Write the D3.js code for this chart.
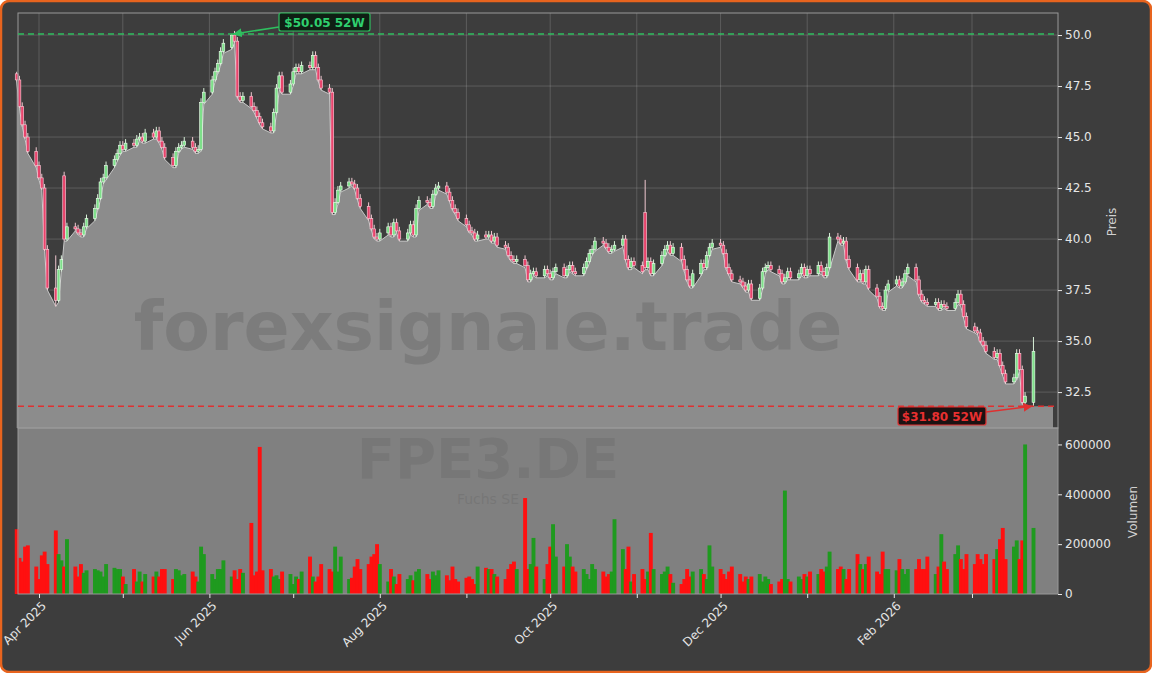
<!DOCTYPE html>
<html><head><meta charset="utf-8">
<script src="https://cdn.jsdelivr.net/npm/d3@7"></script>
<style>body{margin:0;background:#fff}svg{display:block}</style>
</head><body>
<svg id="c" width="1152" height="673"></svg>
<script>
const startDate = "2025-03-24";
const closes = [
47.8,46.5,45.6,45.0,44.3, 43.6,43.0,42.5,39.5,37.6, 37.0,38.5,39.0,40.0,40.6, 40.5,40.3,40.2,40.6,41.0,
41.5,42.0,42.8,43.0,43.6, 43.9,44.2,44.6,44.4,44.7, 44.6,44.9,45.0,44.8,45.2, 45.0,45.3,44.8,44.5,44.0,
43.6,44.3,44.5,44.6,44.8, 44.5,44.3,44.4,46.7,47.2, 47.8,48.2,48.6,49.2,49.6, 50.0,49.7,47.0,46.8,47.0,
46.5,46.3,46.0,45.7,45.5, 45.3,46.2,47.4,48.0,47.2, 47.6,48.2,48.4,48.2,48.5, 48.4,49.0,48.4,47.8,47.4,
47.2,41.3,41.8,42.4,42.6, 42.8,42.7,42.5,42.0,41.6, 41.0,40.5,40.1,40.0,40.3, 40.6,40.2,40.8,40.4,40.0,
40.3,40.7,40.2,41.5,41.9, 41.8,41.6,42.2,42.5,42.6, 42.3,41.9,41.5,41.3,41.0, 40.7,40.4,40.3,40.0,40.2,
40.1,40.2,39.9,40.1,39.7, 39.6,39.2,39.0,38.9,39.0, 38.7,38.0,38.3,38.4,38.2, 38.5,38.3,38.1,38.4,38.6,
38.2,38.5,38.7,38.4,38.3, 38.6,38.9,39.3,39.5,39.9, 39.8,39.6,39.4,39.5,39.7, 40.0,39.0,38.6,38.9,38.7,
38.4,38.6,38.9,38.3,38.8, 39.2,39.5,39.7,39.3,39.6, 39.0,38.5,38.0,37.7,38.3, 38.8,38.6,39.2,39.6,39.8,
39.7,39.3,38.6,38.3,38.0, 37.9,37.7,37.5,37.8,37.1, 37.6,38.4,38.6,38.7,38.5, 38.3,37.9,38.1,38.4,38.1,
38.3,38.6,38.2,38.5,38.3, 38.7,38.4,38.2,38.6,40.1, 40.0,39.8,39.9,39.0,38.6, 38.0,38.3,37.9,38.5,37.6,
37.2,36.7,36.6,37.5,37.8, 38.0,37.7,37.9,38.3,38.6, 38.0,37.3,37.0,36.9,36.8, 36.9,36.6,36.8,36.7,36.6,
36.9,37.3,36.8,36.2,35.7, 35.5,35.4,35.0,34.8,34.5, 34.2,34.4,33.8,33.4,33.0, 33.2,34.4,33.6,32.0,32.3,
34.5];
const openOverrides = [[13,43.1],[55,49.4],[161,41.3],[260,32.0]];
const highOverrides = [[55,50.05],[161,42.9],[260,35.2],[0,48.2],[10,39.2]];
const lowOverrides = [[10,36.7],[259,31.8],[260,31.8]];
const volumes = [
260,145,130,190,195,110,60,155,170,120, 255,160,135,110,220,110,70,120,85,95,
100,95,90,70,120,105,100,100,70,40, 100,50,90,50,80,70,90,70,100,100,
60,100,95,75,80,90,70,50,190,160, 80,60,100,100,135,70,95,60,100,85,
285,75,90,590,95,100,70,75,60,90, 80,40,70,60,90,150,70,50,70,120,
100,90,190,90,150,60,65,110,140,100, 120,150,160,200,120,50,100,70,40,80,
60,75,55,90,100,80,60,90,75,95, 75,55,110,60,50,65,70,60,40,110,
105,100,100,80,70,60,100,120,130,100, 385,100,120,225,110,60,120,190,280,150,
110,200,150,110,90,100,80,60,120,100, 90,70,80,90,300,180,100,190,50,80,
100,60,90,245,100,80,90,110,80,45, 40,60,100,70,90,100,80,60,195,110,
100,80,60,90,110,80,50,70,60,70, 80,50,70,60,40,50,60,415,60,50,
70,60,80,70,90,80,100,90,110,170, 100,110,100,60,100,160,120,100,120,150,
90,80,170,100,100,95,140,100,80,100, 100,140,100,100,150,80,110,240,130,100,
160,195,140,100,160,120,160,140,120,160, 140,180,220,265,140,190,215,140,215,600,
265].map(v=>v*1000);
const priceTicks = [32.5,35.0,37.5,40.0,42.5,45.0,47.5,50.0];
const volTicks = [0,200000,400000,600000];
const high52 = 50.05, low52 = 31.80;

const dates=[]; let d=new Date(startDate+"T00:00:00");
while(dates.length<closes.length){const w=d.getDay(); if(w>0&&w<6) dates.push(new Date(d)); d.setDate(d.getDate()+1);}
const oo=new Map(openOverrides), ho=new Map(highOverrides), lo=new Map(lowOverrides);
const data=closes.map((c,i)=>{const o=oo.has(i)?oo.get(i):(i?closes[i-1]:c+0.3);
 return {date:dates[i],o,c,h:ho.has(i)?ho.get(i):Math.max(o,c)+0.2,l:lo.has(i)?lo.get(i):Math.min(o,c)-0.1,v:volumes[i]};});

const svg=d3.select("#c");
const L=18,R=1058,PT=13,PB=428,VB=594;
svg.append("rect").attr("x",1).attr("y",1).attr("width",1150).attr("height",671).attr("rx",8).attr("fill","#3d3d3d").attr("stroke","#e8641e").attr("stroke-width",2.5);
const x=d3.scaleTime().domain([new Date(2025,3,1),new Date(2026,2,1)]).range([39,972]);
const y=d3.scaleLinear().domain([30.74,51.08]).range([PB,PT]);
const yv=d3.scaleLinear().domain([0,666000]).range([VB,PB]);
const font="DejaVu Sans, sans-serif";
svg.append("rect").attr("x",L).attr("y",PB).attr("width",R-L).attr("height",VB-PB).attr("fill","#808080");
const months=d3.timeMonth.range(new Date(2025,3,1),new Date(2026,3,1));
const g=svg.append("g").attr("stroke","#bbb").attr("stroke-opacity",0.25);
months.forEach(m=>g.append("line").attr("x1",x(m)).attr("x2",x(m)).attr("y1",PT).attr("y2",PB));
priceTicks.forEach(t=>g.append("line").attr("x1",L).attr("x2",R).attr("y1",y(t)).attr("y2",y(t)));
const adata=data.concat([{date:d3.timeDay.offset(dates[dates.length-1],7),l:low52}]);
svg.append("path").datum(adata).attr("fill","#8c8c8c").attr("d",d3.area().x(e=>x(e.date)).y0(PB).y1(e=>y(e.l)));
svg.append("path").datum(data).attr("fill","none").attr("stroke","#c8c8c8").attr("stroke-width",1).attr("d",d3.line().x(e=>x(e.date)).y(e=>y(e.l)));
svg.append("text").attr("x",488).attr("y",350).attr("text-anchor","middle").attr("font-family",font).attr("font-weight","bold").attr("font-size",68).attr("fill","#707070").attr("fill-opacity",0.55).text("forexsignale.trade");
svg.append("text").attr("x",488).attr("y",478).attr("text-anchor","middle").attr("font-family",font).attr("font-weight","bold").attr("font-size",56).attr("fill","#707070").attr("fill-opacity",0.55).text("FPE3.DE");
svg.append("text").attr("x",488).attr("y",504).attr("text-anchor","middle").attr("font-family",font).attr("font-size",14).attr("fill","#707070").attr("fill-opacity",0.6).text("Fuchs SE");
const cg=svg.append("g");
data.forEach(e=>{const up=e.c>=e.o, cx=x(e.date);
 cg.append("line").attr("x1",cx).attr("x2",cx).attr("y1",y(e.h)).attr("y2",y(e.l)).attr("stroke",up?"#d8f0d8":"#f0c8d0").attr("stroke-width",1);
 const t=y(Math.max(e.o,e.c)), b=y(Math.min(e.o,e.c));
 cg.append("rect").attr("x",cx-1.4).attr("y",t).attr("width",2.8).attr("height",Math.max(1,b-t)).attr("fill",up?"#7ee08a":"#e8446c").attr("stroke",up?"#f0fff0":"#ffd0dc").attr("stroke-width",0.6);});
svg.append("g").selectAll("rect").data(data).join("rect").attr("x",e=>x(e.date)-1.9).attr("width",3.9).attr("y",e=>yv(e.v)).attr("height",e=>VB-yv(e.v)).attr("fill",e=>e.c>=e.o?"#1f9a1f":"#ff1010");
svg.append("rect").attr("x",L).attr("y",PT).attr("width",R-L).attr("height",PB-PT).attr("fill","none").attr("stroke","#999").attr("stroke-width",1);
svg.append("rect").attr("x",L).attr("y",PB).attr("width",R-L).attr("height",VB-PB).attr("fill","none").attr("stroke","#999").attr("stroke-width",1);
svg.append("line").attr("x1",L).attr("x2",R).attr("y1",y(high52)).attr("y2",y(high52)).attr("stroke","#2fbf5f").attr("stroke-width",1.5).attr("stroke-dasharray","6,4");
svg.append("line").attr("x1",L).attr("x2",R).attr("y1",y(low52)).attr("y2",y(low52)).attr("stroke","#e03030").attr("stroke-width",1.5).attr("stroke-dasharray","6,4");
const defs=svg.append("defs");
[["ag","#2fbf5f"],["ar","#e03030"]].forEach(([id,c])=>defs.append("marker").attr("id",id).attr("viewBox","0 0 10 10").attr("refX",9).attr("refY",5).attr("markerWidth",6).attr("markerHeight",6).attr("orient","auto").append("path").attr("d","M0,0L10,5L0,10z").attr("fill",c));
const hiD=data[55].date, loD=data[260].date;
svg.append("line").attr("x1",279).attr("y1",27).attr("x2",x(hiD)+2).attr("y2",y(high52)).attr("stroke","#2fbf5f").attr("stroke-width",1.5).attr("marker-end","url(#ag)");
svg.append("rect").attr("x",279).attr("y",13).attr("width",91).attr("height",18).attr("rx",2).attr("fill","#0f1f14").attr("stroke","#2fbf5f").attr("stroke-width",1.2);
svg.append("text").attr("x",324.5).attr("y",26.5).attr("text-anchor","middle").attr("font-family",font).attr("font-weight","bold").attr("font-size",12).attr("fill","#2fcf6f").text("$50.05 52W");
svg.append("line").attr("x1",986).attr("y1",412).attr("x2",x(loD)-2).attr("y2",y(low52)).attr("stroke","#e03030").attr("stroke-width",1.5).attr("marker-end","url(#ar)");
svg.append("rect").attr("x",898).attr("y",407).attr("width",88).attr("height",18).attr("rx",2).attr("fill","#1c1212").attr("stroke","#e03030").attr("stroke-width",1.2);
svg.append("text").attr("x",942).attr("y",420.5).attr("text-anchor","middle").attr("font-family",font).attr("font-weight","bold").attr("font-size",12).attr("fill","#e83030").text("$31.80 52W");
const ax=(sel)=>{sel.selectAll("text").attr("fill","#e6e6e6").attr("font-family",font).attr("font-size",12);sel.selectAll("line").attr("stroke","#e6e6e6");sel.select(".domain").remove();};
svg.append("g").attr("transform",`translate(${R},0)`).call(d3.axisRight(y).tickValues(priceTicks).tickFormat(d3.format(".1f")).tickSize(4)).call(ax);
svg.append("g").attr("transform",`translate(${R},0)`).call(d3.axisRight(yv).tickValues(volTicks).tickFormat(d3.format("d")).tickSize(4)).call(ax);
const xa=svg.append("g").attr("transform",`translate(0,${VB})`).call(d3.axisBottom(x).tickValues(months).tickSize(4).tickFormat((m,i)=>m.getMonth()%2===1?d3.timeFormat("%b %Y")(m):"")).call(ax);
xa.selectAll("text").attr("text-anchor","end").attr("dx","-0.3em").attr("dy","0.6em").attr("transform","rotate(-45)");
svg.append("text").attr("transform","translate(1116,222) rotate(-90)").attr("text-anchor","middle").attr("font-family",font).attr("font-size",12).attr("fill","#d0d0d0").text("Preis");
svg.append("text").attr("transform","translate(1137,512) rotate(-90)").attr("text-anchor","middle").attr("font-family",font).attr("font-size",12).attr("fill","#d0d0d0").text("Volumen");
</script></body></html>
